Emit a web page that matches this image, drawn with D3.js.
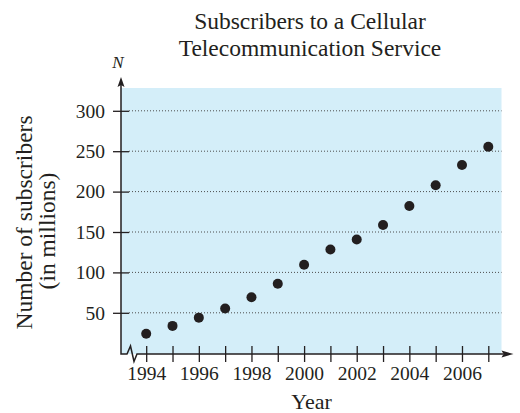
<!DOCTYPE html>
<html>
<head>
<meta charset="utf-8">
<title>Subscribers to a Cellular Telecommunication Service</title>
<script src="https://cdn.jsdelivr.net/npm/d3@7"></script>
<style>
  body { margin: 0; background: #fff; }
  svg text { font-family: "Liberation Serif", "Times New Roman", serif; fill: #231f20; }
</style>
</head>
<body>
<svg id="chart" width="520" height="413"></svg>
<script>
// data
const years = [1994, 1995, 1996, 1997, 1998, 1999, 2000, 2001, 2002, 2003, 2004, 2005, 2006, 2007];
const subscribers = [24.1, 33.8, 44.0, 55.3, 69.2, 86.0, 109.5, 128.4, 140.8, 158.7, 182.1, 207.9, 233.0, 255.4];
const yTicks = [50, 100, 150, 200, 250, 300];
const xLabelYears = [1994, 1996, 1998, 2000, 2002, 2004, 2006];
const titleLines = ["Subscribers to a Cellular", "Telecommunication Service"];
const yTitleLines = ["Number of subscribers", "(in millions)"];

const ink = "#231f20", panelFill = "#d4eef9";
const axX = 121, axY = 354, panelTop = 88, panelRight = 501.5;

const svg = d3.select("#chart");

const x = d3.scaleLinear().domain([1994, 2007]).range([146.2, 488.3]);
const y = d3.scaleLinear().domain([0, 300]).range([353.2, 110.8]);

// panel
svg.append("rect")
  .attr("x", axX).attr("y", panelTop)
  .attr("width", panelRight - axX).attr("height", axY - panelTop)
  .attr("fill", panelFill);

// dotted gridlines
svg.append("g").selectAll("line").data(yTicks).enter().append("line")
  .attr("x1", axX + 8).attr("x2", panelRight)
  .attr("y1", d => y(d)).attr("y2", d => y(d))
  .attr("stroke", "#4d4d4d").attr("stroke-width", 1)
  .attr("stroke-dasharray", "1,2");

// x axis ticks + labels (ticks straddle the axis line)
const xAxis = d3.axisBottom(x).tickValues(years).tickSize(16).tickPadding(4.5)
  .tickFormat(d => xLabelYears.includes(d) ? d : "");
const gx = svg.append("g").attr("transform", `translate(0,${axY - 8})`).call(xAxis);
gx.select(".domain").remove();
gx.selectAll(".tick line").attr("stroke", ink).attr("stroke-width", 1.3);
gx.selectAll(".tick text").attr("font-size", 19.5)
  .style("font-family", '"Liberation Serif", serif').attr("fill", ink);

// y axis ticks + labels
const yAxis = d3.axisLeft(y).tickValues(yTicks).tickSize(16).tickPadding(8);
const gy = svg.append("g").attr("transform", `translate(${axX + 8},0)`).call(yAxis);
gy.select(".domain").remove();
gy.selectAll(".tick line").attr("stroke", ink).attr("stroke-width", 1.3);
gy.selectAll(".tick text").attr("font-size", 19.5)
  .style("font-family", '"Liberation Serif", serif').attr("fill", ink);

// axis lines with break and arrowheads
const axisLine = d3.line();
svg.append("path")
  .attr("d", axisLine([[axX, panelTop - 4], [axX, axY], [axX + 6, axY], [axX + 9.5, axY - 8],
                       [axX + 13, axY + 7.5], [axX + 16, axY], [panelRight + 2, axY]]))
  .attr("fill", "none").attr("stroke", ink).attr("stroke-width", 1.5)
  .attr("stroke-linejoin", "miter");
// y arrow
svg.append("path")
  .attr("d", axisLine([[axX, panelTop - 11], [axX - 3.5, panelTop - 1], [axX, panelTop - 3], [axX + 3.5, panelTop - 1]]) + "Z")
  .attr("fill", ink);
// x arrow
svg.append("path")
  .attr("d", axisLine([[panelRight + 12, axY], [panelRight, axY - 3.5], [panelRight + 2, axY], [panelRight, axY + 3.5]]) + "Z")
  .attr("fill", ink);

// points
svg.append("g").selectAll("circle").data(years).enter().append("circle")
  .attr("cx", d => x(d)).attr("cy", (d, i) => y(subscribers[i]))
  .attr("r", 5).attr("fill", ink);

// title
svg.append("g").selectAll("text").data(titleLines).enter().append("text")
  .attr("x", 310).attr("y", (d, i) => 29 + i * 27)
  .attr("text-anchor", "middle").attr("font-size", 23.5)
  .text(d => d);

// N label
svg.append("text").attr("x", axX - 3).attr("y", 68)
  .attr("text-anchor", "middle").attr("font-size", 17).attr("font-style", "italic")
  .text("N");

// y title
svg.append("g").selectAll("text").data(yTitleLines).enter().append("text")
  .attr("transform", (d, i) => `translate(${i === 0 ? 32 : 55},${i === 0 ? 222.5 : 231}) rotate(-90)`)
  .attr("text-anchor", "middle").attr("font-size", 23.5)
  .text(d => d);

// x title
svg.append("text").attr("x", 311.5).attr("y", 409)
  .attr("text-anchor", "middle").attr("font-size", 22)
  .text("Year");
</script>
</body>
</html>
